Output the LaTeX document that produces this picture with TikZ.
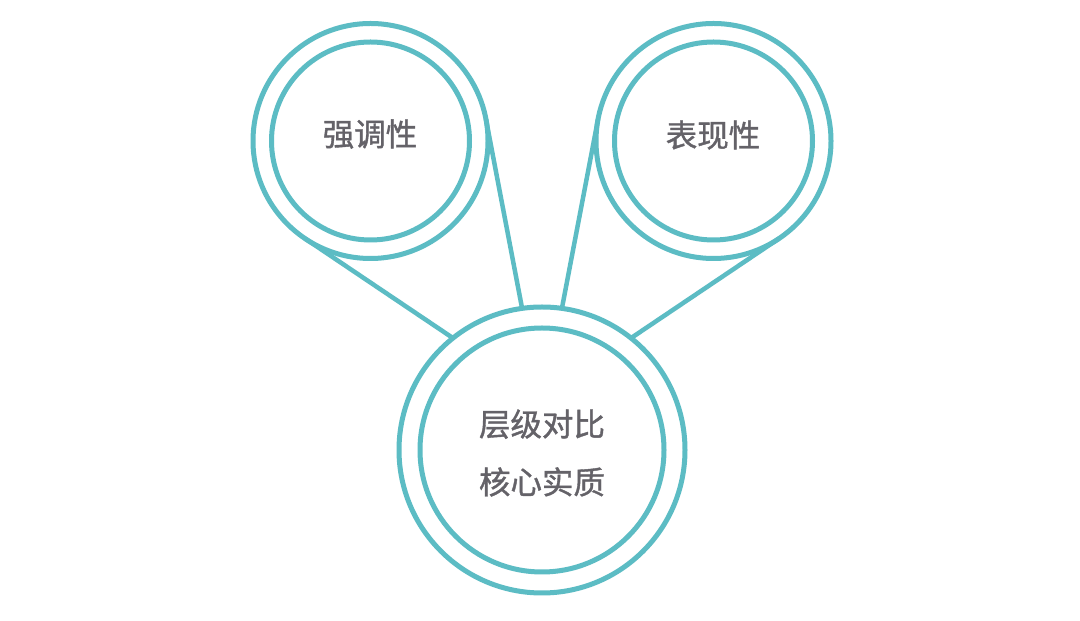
\documentclass[tikz,border=0pt]{standalone}
\usepackage{fontspec}
\usetikzlibrary{calc}
\newfontfamily\cjk[FakeBold=1.2]{Noto Sans CJK SC}
\definecolor{teal1}{RGB}{92,188,196}
\definecolor{txtgray}{RGB}{100,98,104}
\begin{document}
\begin{tikzpicture}[x=1pt,y=1pt,
  ring/.style={draw=teal1,line width=5pt},
  link/.style={draw=teal1,line width=4.5pt},
  lbl/.style={text=txtgray,font=\cjk\fontsize{31.5}{58}\selectfont,align=center}]
\useasboundingbox (0,0) rectangle (1080,621);
\fill[white] (0,0) rectangle (1080,621);
% centres
\coordinate (c1) at (370.5,480);
\coordinate (c2) at (713.5,480);
\coordinate (c3) at (542,171);
% tangent points on the top circles
\coordinate (t1a) at ($(c1)+(236.1:117.5)$);
\coordinate (t1b) at ($(c1)+(10.8:117.5)$);
\coordinate (t2c) at ($(c2)+(169.2:117.5)$);
\coordinate (t2d) at ($(c2)+(303.9:117.5)$);
% end points on the bottom circle
\coordinate (pa) at ($(c3)+(128.5:143)$);
\coordinate (pb) at ($(c3)+(98:143)$);
\coordinate (pc) at ($(c3)+(82:143)$);
\coordinate (pd) at ($(c3)+(51.5:143)$);
% connectors
\draw[link] (t1a) -- (pa);
\draw[link] (t1b) -- (pb);
\draw[link] (t2c) -- (pc);
\draw[link] (t2d) -- (pd);
% rings
\draw[ring] (c1) circle (117.5);
\draw[ring] (c1) circle (99);
\draw[ring] (c2) circle (117.5);
\draw[ring] (c2) circle (99);
\draw[ring] (c3) circle (143);
\draw[ring] (c3) circle (122);
% labels
\node[lbl] (n1) at (370,487) {强调性};
\node[lbl] (n2) at (713,486) {表现性};
\node[lbl] (n3) at (542,168) {层级对比\\核心实质};
\end{tikzpicture}
\end{document}
